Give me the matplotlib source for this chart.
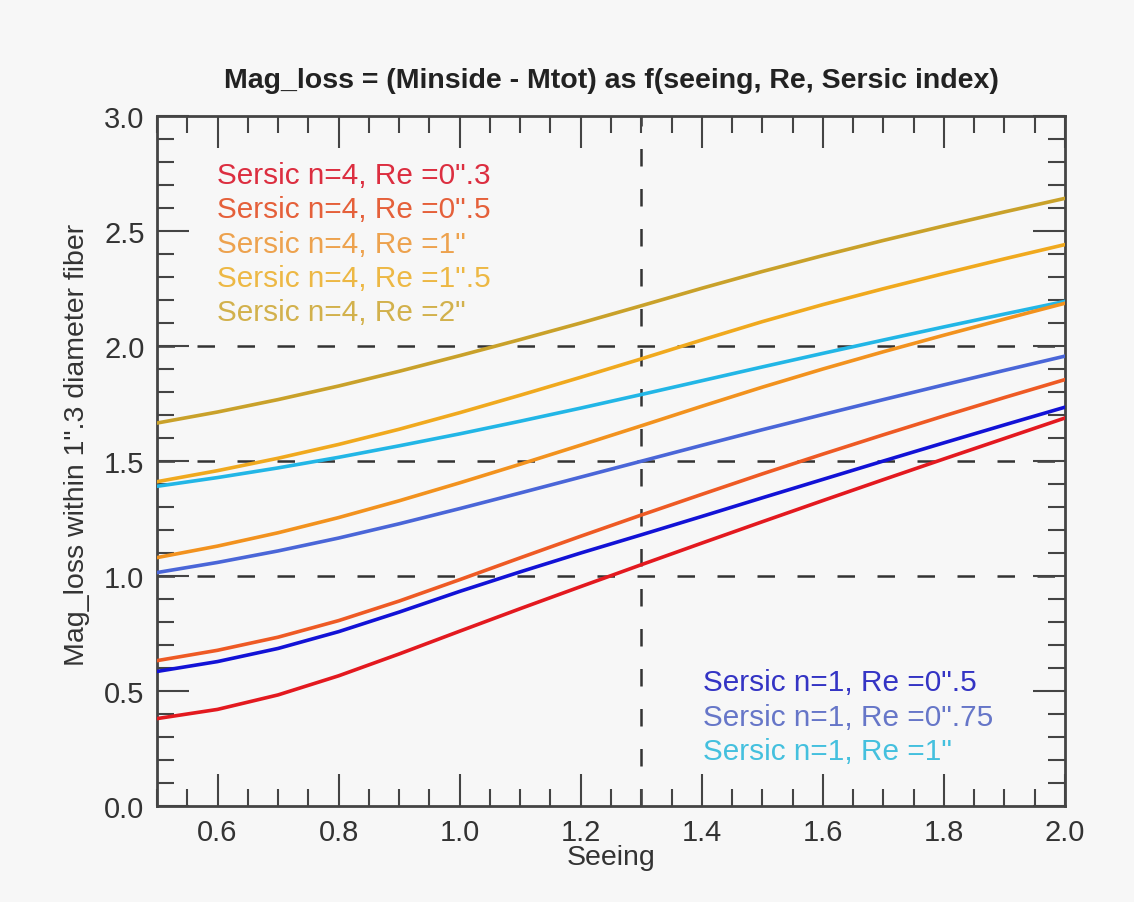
import matplotlib
matplotlib.use("Agg")
import matplotlib.pyplot as plt
from matplotlib.ticker import MultipleLocator, FixedLocator, FormatStrFormatter

plt.rcParams['font.family'] = ['Liberation Sans', 'DejaVu Sans']

seeing = [0.5, 0.6, 0.7, 0.8, 0.9, 1.0, 1.1, 1.2, 1.3, 1.4, 1.5, 1.6, 1.7, 1.8, 1.9, 2.0]

n4_re2 = [1.665, 1.713, 1.767, 1.826, 1.890, 1.958, 2.028, 2.100, 2.175, 2.251, 2.324, 2.393, 2.459, 2.522, 2.583, 2.642]
n4_re15 = [1.410, 1.458, 1.512, 1.572, 1.638, 1.710, 1.786, 1.864, 1.944, 2.026, 2.106, 2.180, 2.249, 2.315, 2.379, 2.441]
n1_re1 = [1.390, 1.428, 1.470, 1.516, 1.566, 1.618, 1.673, 1.730, 1.789, 1.849, 1.909, 1.968, 2.026, 2.083, 2.139, 2.194]
n4_re1 = [1.080, 1.130, 1.188, 1.254, 1.327, 1.405, 1.486, 1.569, 1.653, 1.738, 1.821, 1.900, 1.975, 2.047, 2.117, 2.186]
n1_re075 = [1.015, 1.059, 1.109, 1.165, 1.227, 1.293, 1.361, 1.430, 1.499, 1.568, 1.636, 1.702, 1.767, 1.831, 1.894, 1.956]
n4_re05 = [0.632, 0.677, 0.734, 0.806, 0.891, 0.984, 1.079, 1.173, 1.265, 1.355, 1.444, 1.530, 1.614, 1.696, 1.776, 1.854]
n1_re05 = [0.585, 0.628, 0.685, 0.758, 0.843, 0.933, 1.018, 1.100, 1.179, 1.259, 1.340, 1.420, 1.500, 1.579, 1.657, 1.734]
n4_re03 = [0.380, 0.420, 0.483, 0.566, 0.661, 0.760, 0.858, 0.954, 1.049, 1.143, 1.236, 1.328, 1.419, 1.509, 1.598, 1.687]

labels_n4 = ['Sersic n=4, Re =0".3', 'Sersic n=4, Re =0".5', 'Sersic n=4, Re =1"',
             'Sersic n=4, Re =1".5', 'Sersic n=4, Re =2"']
labels_n1 = ['Sersic n=1, Re =0".5', 'Sersic n=1, Re =0".75', 'Sersic n=1, Re =1"']

c_n4 = ['#E3191F', '#EE5A24', '#F2921E', '#F0A91E', '#C9A12A']
t_n4 = ['#DC2E40', '#E5603A', '#EDA24E', '#EDB844', '#D2B14C']
c_n1 = ['#1212D6', '#4A66D8', '#22B6E6']
t_n1 = ['#3434C4', '#6676C8', '#44C0DE']

hlines = [1.0, 1.5, 2.0]
vline = 1.3

bg = '#F7F7F7'
W, H = 1134, 903
fig = plt.figure(figsize=(W / 100, H / 100), dpi=100, facecolor=bg)
ax = fig.add_axes([157 / W, 1 - 807 / H, (1065 - 157) / W, (807 - 117) / H], facecolor=bg)

for y in hlines:
    ax.axhline(y, color='#333333', lw=1.8, ls=(0, (7, 9)), zorder=1)
ax.axvline(vline, color='#333333', lw=1.8, ls=(0, (7, 9)), zorder=1)

order = [(n4_re2, c_n4[4]), (n4_re15, c_n4[3]), (n1_re1, c_n1[2]), (n4_re1, c_n4[2]),
         (n1_re075, c_n1[1]), (n4_re05, c_n4[1]), (n1_re05, c_n1[0]), (n4_re03, c_n4[0])]
for ys, col in order:
    ax.plot(seeing, ys, color=col, lw=2.6, solid_joinstyle='round', zorder=3)

ax.set_xlim(0.5, 2.0)
ax.set_ylim(0.0, 3.0)
ax.xaxis.set_major_locator(FixedLocator([0.6, 0.8, 1.0, 1.2, 1.4, 1.6, 1.8, 2.0]))
ax.xaxis.set_minor_locator(MultipleLocator(0.05))
ax.yaxis.set_major_locator(MultipleLocator(0.5))
ax.yaxis.set_minor_locator(MultipleLocator(0.1))
ax.xaxis.set_major_formatter(FormatStrFormatter('%.1f'))
ax.yaxis.set_major_formatter(FormatStrFormatter('%.1f'))
ax.tick_params(which='both', direction='in', top=True, right=True, color='#444444',
               width=1.5, labelsize=21, labelcolor='#333333')
ax.tick_params(which='major', length=23, pad=9)
ax.tick_params(which='minor', length=12)
for s in ax.spines.values():
    s.set_color('#444444')
    s.set_linewidth(2)

fig.text(611 / W, 1 - 858 / H, 'Seeing', ha='center', va='center', fontsize=20.5, color='#333333')
fig.text(77 / W, 1 - 445 / H, 'Mag_loss within 1".3 diameter fiber', rotation=90,
         ha='center', va='center', fontsize=20.5, color='#333333')
fig.text(611 / W, 1 - 81 / H, 'Mag_loss = (Minside - Mtot) as f(seeing, Re, Sersic index)',
         ha='center', va='center', fontsize=20.5, fontweight='bold', color='#222222')

ys4 = [176, 210, 245, 279, 313]
for lab, col, yp in zip(labels_n4, t_n4, ys4):
    fig.text(217 / W, 1 - yp / H, lab, ha='left', va='center', fontsize=21.4, color=col)
ys1 = [683, 718, 752]
for lab, col, yp in zip(labels_n1, t_n1, ys1):
    fig.text(703 / W, 1 - yp / H, lab, ha='left', va='center', fontsize=21.4, color=col)

fig.savefig('out.png', dpi=100, facecolor=bg)
